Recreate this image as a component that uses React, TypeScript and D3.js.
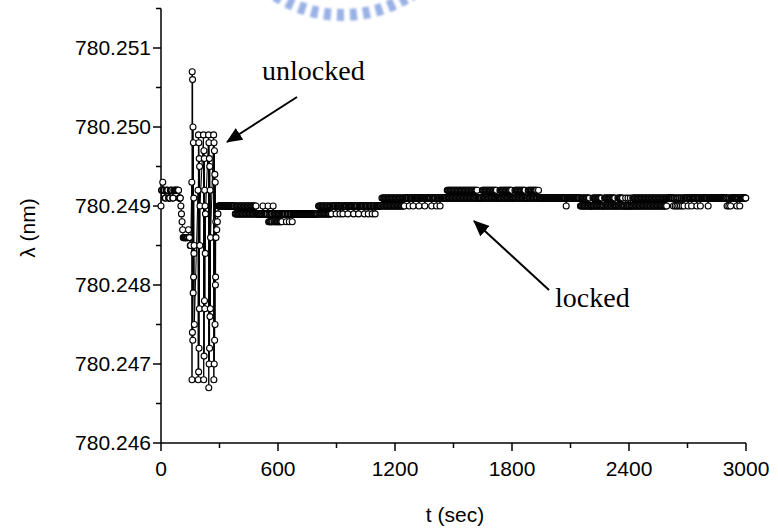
import React from 'react';
import * as d3 from 'd3';

// axis ticks
const xTicks = [0, 600, 1200, 1800, 2400, 3000];
const xMinorTicks = [300, 900, 1500, 2100, 2700];
const yTicks = [780.246, 780.247, 780.248, 780.249, 780.25, 780.251];
const yMinorTicks = [780.2465, 780.2475, 780.2485, 780.2495, 780.2505, 780.2515];

// sampling interval of the recorded trace (s)
const sampleStep = 2;

// run-length records: [t start, t end, lambda] or [t start, t end, lambda A, lambda B]
// (the second form flips between two adjacent readings on every sample)
type Run = [number, number, number] | [number, number, number, number];

// before the laser was unlocked
const preRuns: Run[] = [
  [0, 0, 780.249], [3, 6, 780.2492], [9, 9, 780.2493], [12, 18, 780.2492],
  [21, 24, 780.2491], [27, 36, 780.2492], [39, 45, 780.2491], [48, 57, 780.2492],
  [60, 63, 780.2491], [66, 90, 780.2492], [93, 99, 780.2491], [102, 102, 780.249],
  [105, 105, 780.2489], [108, 108, 780.2488], [111, 111, 780.2487],
  [114, 138, 780.2486], [141, 141, 780.2487], [144, 147, 780.2486], [150, 153, 780.2485],
];

// unlocked section, read point by point
const unlockedTime = [
  158, 159, 160, 161, 162, 163, 164, 165, 166, 167, 168, 169, 170, 171,
  190, 191, 192, 193, 194, 195, 196, 197, 198, 199, 200,
  218, 219, 220, 221, 222, 223, 224, 225, 226, 227, 228,
  244, 245, 246, 247, 248, 249, 250, 251, 252, 253, 254,
  270, 271, 272, 273, 274, 275, 276, 277, 278, 279, 280, 281, 282,
  286, 289, 292,
];
const unlockedLambda = [
  780.2493, 780.2468, 780.2507, 780.2474, 780.2506, 780.2473, 780.25, 780.2479, 780.2498, 780.2481, 780.2491, 780.2484, 780.2485, 780.2475,
  780.2492, 780.2468, 780.2499, 780.2469, 780.2498, 780.2472, 780.2496, 780.2477, 780.2495, 780.2485, 780.249,
  780.2499, 780.2468, 780.2497, 780.2471, 780.2496, 780.2478, 780.2492, 780.2477, 780.249, 780.2484, 780.2489,
  780.2499, 780.2467, 780.2498, 780.247, 780.2496, 780.2472, 780.2495, 780.2476, 780.2492, 780.2477, 780.2486,
  780.2499, 780.2468, 780.2498, 780.247, 780.2497, 780.2473, 780.2494, 780.2475, 780.2493, 780.248, 780.2481, 780.2488, 780.2486,
  780.2487, 780.2488, 780.2489,
];

// locked section
const lockedRuns: Run[] = [
  [295, 378, 780.249],
  [381, 490, 780.2489, 780.249],
  [493, 520, 780.2489], [523, 523, 780.249], [526, 546, 780.2489], [549, 549, 780.249],
  [552, 572, 780.2488, 780.2489], [575, 575, 780.249], [578, 622, 780.2489, 780.2488],
  [625, 640, 780.2489], [643, 643, 780.2488], [646, 655, 780.2489], [658, 658, 780.2488],
  [661, 670, 780.2489], [673, 673, 780.2488],
  [676, 805, 780.2489],
  [808, 875, 780.249, 780.2489],
  [878, 895, 780.249], [898, 898, 780.2489], [901, 915, 780.249], [918, 918, 780.2489],
  [921, 930, 780.249], [933, 933, 780.2489], [936, 955, 780.249], [958, 958, 780.2489],
  [961, 985, 780.249], [988, 988, 780.2489], [991, 1010, 780.249], [1013, 1013, 780.2489],
  [1016, 1040, 780.249], [1043, 1043, 780.2489], [1046, 1060, 780.249], [1063, 1063, 780.2489],
  [1066, 1080, 780.249], [1083, 1083, 780.2489], [1086, 1095, 780.249], [1098, 1098, 780.2489],
  [1101, 1130, 780.249], [1133, 1133, 780.2491],
  [1136, 1250, 780.249, 780.2491],
  [1253, 1270, 780.2491], [1273, 1273, 780.249], [1276, 1290, 780.2491], [1293, 1293, 780.249],
  [1296, 1320, 780.2491], [1323, 1323, 780.249], [1326, 1350, 780.2491], [1353, 1353, 780.249],
  [1356, 1385, 780.2491], [1388, 1388, 780.249], [1391, 1410, 780.2491], [1413, 1413, 780.249],
  [1416, 1428, 780.2491], [1431, 1431, 780.249],
  [1434, 1465, 780.2491],
  [1468, 1618, 780.2492, 780.2491], [1621, 1621, 780.2492], [1624, 1645, 780.2491],
  [1648, 1720, 780.2492, 780.2491], [1723, 1735, 780.2491],
  [1738, 1800, 780.2492, 780.2491], [1803, 1812, 780.2491],
  [1815, 1870, 780.2492, 780.2491], [1873, 1880, 780.2491],
  [1883, 1930, 780.2492, 780.2491], [1933, 1933, 780.2491], [1936, 1936, 780.2492],
  [1939, 2075, 780.2491], [2078, 2078, 780.249], [2081, 2148, 780.2491],
  [2151, 2200, 780.249, 780.2491], [2203, 2212, 780.249],
  [2215, 2260, 780.2491, 780.249], [2263, 2272, 780.249],
  [2275, 2330, 780.2491, 780.249], [2333, 2340, 780.249],
  [2343, 2370, 780.2491, 780.249], [2373, 2380, 780.249], [2383, 2383, 780.2491],
  [2386, 2392, 780.249], [2395, 2395, 780.2491], [2398, 2404, 780.249], [2407, 2407, 780.2491],
  [2410, 2416, 780.249],
  [2419, 2596, 780.2491, 780.249],
  [2599, 2625, 780.2491], [2628, 2628, 780.249], [2631, 2634, 780.2491], [2637, 2637, 780.249],
  [2640, 2643, 780.2491], [2646, 2646, 780.249], [2649, 2652, 780.2491], [2655, 2655, 780.249],
  [2658, 2661, 780.2491], [2664, 2664, 780.249], [2667, 2670, 780.2491], [2673, 2673, 780.249],
  [2676, 2679, 780.2491], [2682, 2682, 780.249], [2685, 2700, 780.2491], [2703, 2703, 780.249],
  [2706, 2718, 780.2491], [2721, 2721, 780.249], [2724, 2745, 780.2491], [2748, 2748, 780.249],
  [2751, 2763, 780.2491], [2766, 2766, 780.249], [2769, 2803, 780.2491], [2806, 2806, 780.249],
  [2809, 2900, 780.2491], [2903, 2903, 780.249], [2906, 2909, 780.2491], [2912, 2912, 780.249],
  [2915, 2918, 780.2491], [2921, 2921, 780.249], [2924, 2950, 780.2491], [2953, 2953, 780.249],
  [2956, 2965, 780.2491], [2968, 2968, 780.249], [2971, 3000, 780.2491],
];

const W = 778;
const H = 531;

function expandRuns(runs: Run[]) {
  const pts: [number, number][] = [];
  runs.forEach(r => {
    const [t0, t1, a] = r;
    const b = r.length > 3 ? (r as number[])[3] : a;
    let k = 0;
    for (let t = t0; t <= t1; t += sampleStep) {
      pts.push([t, k % 2 === 0 ? a : b]);
      k++;
    }
  });
  return pts;
}

export default function App() {
  const x = d3.scaleLinear().domain([0, 3000]).range([161, 746]);
  const y = d3.scaleLinear().domain([780.246, 780.2515]).range([443, 8.5]);

  const data: [number, number][] = [
    ...expandRuns(preRuns),
    ...unlockedTime.map((t, i) => [t, unlockedLambda[i]] as [number, number]),
    ...expandRuns(lockedRuns),
  ];

  const line = d3.line<[number, number]>().x(d => x(d[0])).y(d => y(d[1]));
  const font = '"Liberation Sans", Arial, sans-serif';
  const serif = '"Liberation Serif", "Times New Roman", serif';

  return (
    <svg width={W} height={H} style={{ position: 'absolute', left: 0, top: 0, background: '#fff' }}>
      <defs>
        <marker id="ah" markerUnits="userSpaceOnUse" markerWidth={16} markerHeight={14} refX={15} refY={7} orient="auto">
          <path d="M0,0 L16,7 L0,14 Z" fill="#000" />
        </marker>
        <filter id="blur"><feGaussianBlur stdDeviation={1.2} /></filter>
      </defs>

      {/* faint watermark at the top */}
      <g transform="translate(343,-111)" filter="url(#blur)">
        <circle r={126} fill="none" stroke="#8fa8e3" strokeWidth={12} strokeDasharray="7 6"
          transform="rotate(60)" opacity={0.9} />
      </g>

      {/* axes */}
      <line x1={x(0)} x2={x(0)} y1={y(780.2515)} y2={y(780.246)} stroke="#000" strokeWidth={1.5} />
      <line x1={x(0)} x2={x(3000)} y1={y(780.246)} y2={y(780.246)} stroke="#000" strokeWidth={1.5} />
      {yTicks.map(v => (
        <g key={'y' + v}>
          <line x1={x(0) - 8} x2={x(0)} y1={y(v)} y2={y(v)} stroke="#000" strokeWidth={1.5} />
          <text x={x(0) - 10} y={y(v)} dy="0.35em" textAnchor="end" fontFamily={font} fontSize={21}>
            {d3.format('.3f')(v)}
          </text>
        </g>
      ))}
      {yMinorTicks.map(v => (
        <line key={'ym' + v} x1={x(0) - 5} x2={x(0)} y1={y(v)} y2={y(v)} stroke="#000" strokeWidth={1.5} />
      ))}
      {xTicks.map(v => (
        <g key={'x' + v}>
          <line x1={x(v)} x2={x(v)} y1={y(780.246)} y2={y(780.246) + 8} stroke="#000" strokeWidth={1.5} />
          <text x={x(v)} y={y(780.246) + 33} textAnchor="middle" fontFamily={font} fontSize={21}>{v}</text>
        </g>
      ))}
      {xMinorTicks.map(v => (
        <line key={'xm' + v} x1={x(v)} x2={x(v)} y1={y(780.246)} y2={y(780.246) + 5} stroke="#000" strokeWidth={1.5} />
      ))}

      <text x={455} y={522} textAnchor="middle" fontFamily={font} fontSize={21}>t (sec)</text>
      <text transform="translate(35,228) rotate(-90)" textAnchor="middle" fontFamily={font} fontSize={21}>λ (nm)</text>

      {/* trace */}
      <path d={line(data) || ''} fill="none" stroke="#000" strokeWidth={1} />
      {data.map((d, i) => (
        <circle key={i} cx={x(d[0])} cy={y(d[1])} r={3} fill="#fff" stroke="#000" strokeWidth={1.1} />
      ))}

      {/* annotations */}
      <text x={262} y={80} fontFamily={serif} fontSize={28}>unlocked</text>
      <line x1={297} y1={97} x2={227} y2={142} stroke="#000" strokeWidth={2} markerEnd="url(#ah)" />
      <text x={555} y={307} fontFamily={serif} fontSize={28}>locked</text>
      <line x1={549} y1={290} x2={474} y2={221} stroke="#000" strokeWidth={2} markerEnd="url(#ah)" />
    </svg>
  );
}
